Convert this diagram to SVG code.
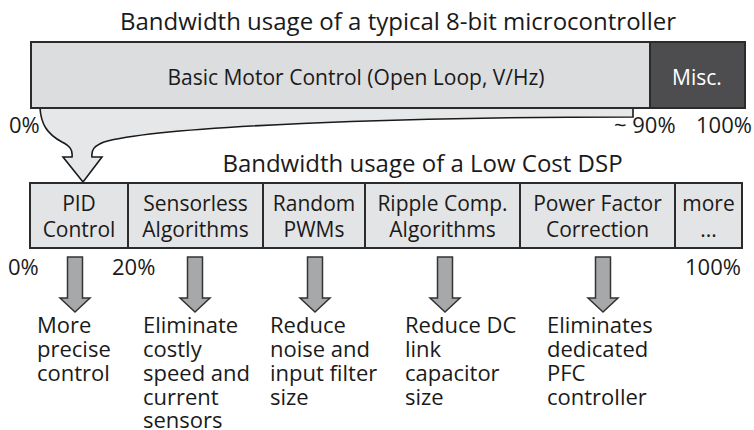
<svg xmlns="http://www.w3.org/2000/svg" width="754" height="430" viewBox="0 0 754 430">
  <style>
    text { font-family: "Open Sans", "Noto Sans", "DejaVu Sans", sans-serif; font-size: 22px; fill: #1a1a1a; }
    .title { font-size: 24px; }
    .in { font-size: 21px; }
    .mid { text-anchor: middle; }
    .box { fill: #dcddde; stroke: #2b2b2b; stroke-width: 2; }
    .cell { fill: #e3e4e5; stroke: #2b2b2b; stroke-width: 2; }
    .dark { fill: #4d4d4f; stroke: #2b2b2b; stroke-width: 2; }
    .funnel { fill: #e6e7e8; stroke: #1a1a1a; stroke-width: 1.6; stroke-linejoin: miter; }
    .down { fill: #a7a8aa; stroke: #333; stroke-width: 1.5; stroke-linejoin: miter; }
  </style>
  <defs>
    <path id="down-arrow" class="down" d="M-7.5,0 L7.5,0 L7.5,41 L15,41 L0,55 L-15,41 L-7.5,41 Z"/>
  </defs>

  <!-- 8-bit microcontroller bar -->
  <text class="title mid" x="398" y="30">Bandwidth usage of a typical 8-bit microcontroller</text>

  <!-- funnel from the 0-90% span down to the first DSP cell, and benefit arrows -->
  <g id="connectors">
    <path class="funnel" d="M40,108 C41,124 47,134 62,142 C70,146 73,150 72,157 L63,157 L83,182 L102,157 L92,157 C91,150 94,146 104,142 C160,126 400,117 633,117 L633,108 Z"/>
    <use href="#down-arrow" x="75" y="257"/>
    <use href="#down-arrow" x="195" y="257"/>
    <use href="#down-arrow" x="315" y="257"/>
    <use href="#down-arrow" x="445" y="257"/>
    <use href="#down-arrow" x="603" y="257"/>
  </g>

  <g id="mcu-basic">
    <rect class="box" x="31" y="42" width="619" height="66"/>
    <text class="in mid" x="356" y="85">Basic Motor Control (Open Loop, V/Hz)</text>
  </g>
  <g id="mcu-misc">
    <rect class="dark" x="650" y="42" width="95" height="66"/>
    <text class="in mid" x="697" y="85" style="fill:#ffffff">Misc.</text>
  </g>

  <g id="mcu-scale">
    <text x="9" y="133">0%</text>
    <text x="614" y="133">~ 90%</text>
    <text x="696" y="133">100%</text>
  </g>

  <!-- low cost DSP bar -->
  <text class="title mid" x="422.5" y="172">Bandwidth usage of a Low Cost DSP</text>

  <g id="dsp-pid">
    <rect class="cell" x="30" y="183" width="98" height="65"/>
    <text class="in mid" x="79" y="211">PID</text>
    <text class="in mid" x="79" y="237">Control</text>
  </g>
  <g id="dsp-sensorless">
    <rect class="cell" x="128" y="183" width="135" height="65"/>
    <text class="in mid" x="195.5" y="211">Sensorless</text>
    <text class="in mid" x="195.5" y="237">Algorithms</text>
  </g>
  <g id="dsp-random">
    <rect class="cell" x="263" y="183" width="102" height="65"/>
    <text class="in mid" x="314" y="211">Random</text>
    <text class="in mid" x="314" y="237">PWMs</text>
  </g>
  <g id="dsp-ripple">
    <rect class="cell" x="365" y="183" width="155" height="65"/>
    <text class="in mid" x="442.5" y="211">Ripple Comp.</text>
    <text class="in mid" x="442.5" y="237">Algorithms</text>
  </g>
  <g id="dsp-pfc">
    <rect class="cell" x="520" y="183" width="155" height="65"/>
    <text class="in mid" x="597.5" y="211">Power Factor</text>
    <text class="in mid" x="597.5" y="237">Correction</text>
  </g>
  <g id="dsp-more">
    <rect class="cell" x="675" y="183" width="67" height="65"/>
    <text class="in mid" x="708.5" y="211">more</text>
    <text class="in mid" x="708.5" y="237">...</text>
  </g>

  <g id="dsp-scale">
    <text x="8" y="275">0%</text>
    <text x="112" y="275">20%</text>
    <text x="685" y="275">100%</text>
  </g>

  <!-- benefits -->
  <g id="benefit-pid">
    <text x="37" y="333">More</text>
    <text x="37" y="357">precise</text>
    <text x="37" y="381">control</text>
  </g>
  <g id="benefit-sensorless">
    <text x="143" y="333">Eliminate</text>
    <text x="143" y="357">costly</text>
    <text x="143" y="381">speed and</text>
    <text x="143" y="405">current</text>
    <text x="143" y="428">sensors</text>
  </g>
  <g id="benefit-random">
    <text x="270" y="333">Reduce</text>
    <text x="270" y="357">noise and</text>
    <text x="270" y="381">input filter</text>
    <text x="270" y="405">size</text>
  </g>
  <g id="benefit-ripple">
    <text x="405" y="333">Reduce DC</text>
    <text x="405" y="357">link</text>
    <text x="405" y="381">capacitor</text>
    <text x="405" y="405">size</text>
  </g>
  <g id="benefit-pfc">
    <text x="547" y="333">Eliminates</text>
    <text x="547" y="357">dedicated</text>
    <text x="547" y="381">PFC</text>
    <text x="547" y="405">controller</text>
  </g>
</svg>
